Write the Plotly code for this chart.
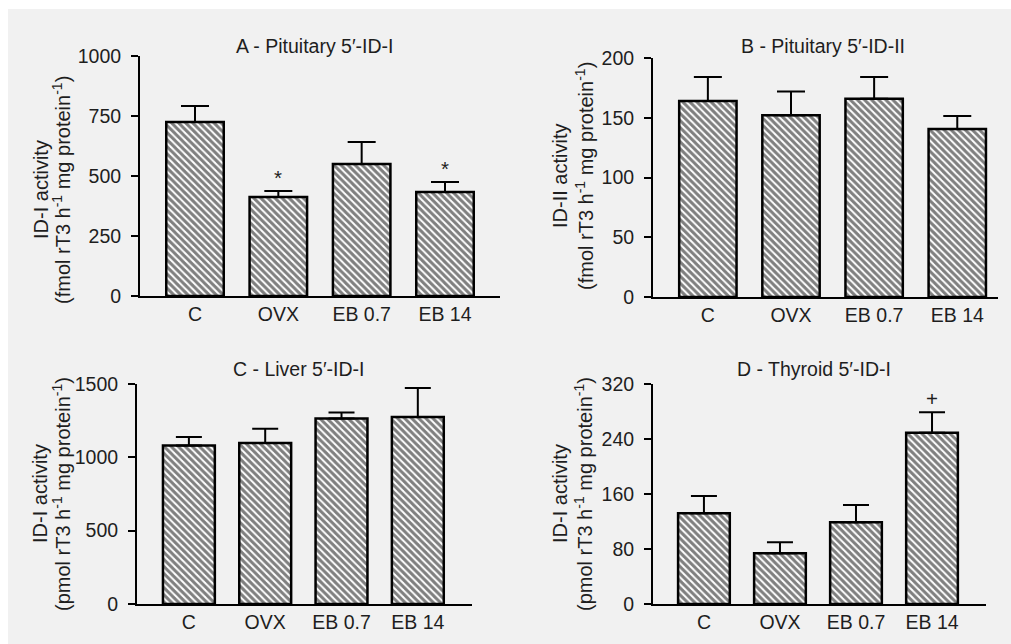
import plotly.graph_objects as go

W, H = 1011, 644

categories = ["C", "OVX", "EB 0.7", "EB 14"]

a_mean = [725, 412, 550, 433]
a_sem = [67, 26, 92, 42]
b_mean = [164, 152, 166, 140.5]
b_sem = [20, 20, 18, 11]
c_mean = [1080, 1098, 1264, 1275]
c_sem = [59, 97, 41, 198]
d_mean = [132, 74, 119, 249]
d_sem = [25, 16, 25, 30]

a_marks = ["", "*", "", "*"]
b_marks = ["", "", "", ""]
c_marks = ["", "", "", ""]
d_marks = ["", "", "", "+"]

titles = ["A - Pituitary 5\u2032-ID-I", "B - Pituitary 5\u2032-ID-II",
          "C - Liver 5\u2032-ID-I", "D - Thyroid 5\u2032-ID-I"]
ytitle_line1 = ["ID-I activity", "ID-II activity", "ID-I activity", "ID-I activity"]
ytitle_line2 = [
    "(fmol rT3 h<sup>-1</sup> mg protein<sup>-1</sup>)",
    "(fmol rT3 h<sup>-1</sup> mg protein<sup>-1</sup>)",
    "(pmol rT3 h<sup>-1</sup> mg protein<sup>-1</sup>)",
    "(pmol rT3 h<sup>-1</sup> mg protein<sup>-1</sup>)",
]
ytickvals = [
    [0, 250, 500, 750, 1000],
    [0, 50, 100, 150, 200],
    [0, 500, 1000, 1500],
    [0, 80, 160, 240, 320],
]

# layout (pixel geometry)
panels = [
    dict(x0=140, x1=500, yb=296, yt=56, xr=[-0.66, 3.66], yr=[0, 1000], bw=0.69, cap=14,
         tx=315, ty=46, l1x=41, l2x=62, aty=190),
    dict(x0=653, x1=998, yb=297, yt=58, xr=[-0.66, 3.49], yr=[0, 200], bw=0.69, cap=14,
         tx=823, ty=46, l1x=560, l2x=584, aty=176),
    dict(x0=137, x1=472, yb=604, yt=384, xr=[-0.68, 3.71], yr=[0, 1500], bw=0.68, cap=13,
         tx=299, ty=369, l1x=40, l2x=62, aty=494),
    dict(x0=653, x1=986, yb=604, yt=384, xr=[-0.67, 3.71], yr=[0, 320], bw=0.68, cap=13,
         tx=814, ty=369, l1x=560, l2x=584, aty=494),
]

means = [a_mean, b_mean, c_mean, d_mean]
sems = [a_sem, b_sem, c_sem, d_sem]
marks = [a_marks, b_marks, c_marks, d_marks]

FONT = "Liberation Sans, Arial, Helvetica, sans-serif"
FS = 19.5
FS_YT = 20
TXT = "#1e1e1e"

fig = go.Figure()
annotations = []
layout_axes = {}

for i, p in enumerate(panels):
    n = "" if i == 0 else str(i + 1)
    xa, ya = "x" + n, "y" + n
    fig.add_trace(go.Bar(
        x=categories, y=means[i], xaxis=xa, yaxis=ya,
        width=[p["bw"]] * 4,
        marker=dict(color="white",
                    line=dict(color="black", width=2.5),
                    pattern=dict(shape="\\", size=5, solidity=0.6,
                                 fgcolor="black", bgcolor="white")),
        error_y=dict(type="data", symmetric=False, array=sems[i],
                     arrayminus=[0] * 4, color="black", thickness=2, width=p["cap"]),
        showlegend=False, hoverinfo="skip",
    ))
    layout_axes["xaxis" + n] = dict(
        domain=[p["x0"] / W, p["x1"] / W], anchor=ya, range=p["xr"],
        showline=True, linecolor="black", linewidth=2, ticks="", showgrid=False,
        zeroline=False, tickfont=dict(family=FONT, size=FS, color=TXT),
        type="category", fixedrange=True, automargin=False,
    )
    layout_axes["yaxis" + n] = dict(
        domain=[1 - p["yb"] / H, 1 - p["yt"] / H], anchor=xa, range=p["yr"],
        showline=True, linecolor="black", linewidth=2, ticks="outside",
        ticklen=7, tickwidth=2, tickcolor="black", tickvals=ytickvals[i],
        showgrid=False, zeroline=False, ticklabelstandoff=6, automargin=False,
        fixedrange=True, tickfont=dict(family=FONT, size=FS, color=TXT),
    )
    annotations.append(dict(
        text=titles[i], x=p["tx"] / W, y=1 - p["ty"] / H, xref="paper", yref="paper",
        showarrow=False, xanchor="center", yanchor="middle",
        font=dict(family=FONT, size=FS, color=TXT),
    ))
    for lx, lt in ((p["l1x"], ytitle_line1[i]), (p["l2x"], ytitle_line2[i])):
        annotations.append(dict(
            text=lt, x=lx / W, y=1 - p["aty"] / H, xref="paper", yref="paper",
            showarrow=False, xanchor="center", yanchor="middle", textangle=-90,
            font=dict(family=FONT, size=FS_YT, color=TXT),
        ))
    for j, m in enumerate(marks[i]):
        if m:
            annotations.append(dict(
                text=m, x=categories[j], y=means[i][j] + sems[i][j], xref=xa, yref=ya,
                showarrow=False, xanchor="center", yanchor="bottom", yshift=0,
                font=dict(family=FONT, size=FS + 1, color=TXT),
            ))

fig.update_layout(
    width=W, height=H, autosize=False,
    margin=dict(l=0, r=0, t=0, b=0, pad=0, autoexpand=False),
    paper_bgcolor="white", plot_bgcolor="rgba(0,0,0,0)",
    annotations=annotations,
    shapes=[dict(type="rect", xref="paper", yref="paper",
                 x0=8 / W, x1=1, y0=0, y1=1 - 9 / H,
                 fillcolor="#f1f1f1", line=dict(width=0), layer="below")],
    **layout_axes,
)

fig.write_html(
    "out.html",
    config={"displayModeBar": False, "staticPlot": True},
    post_script="document.body.style.margin='0px';document.body.style.overflow='hidden';",
)
